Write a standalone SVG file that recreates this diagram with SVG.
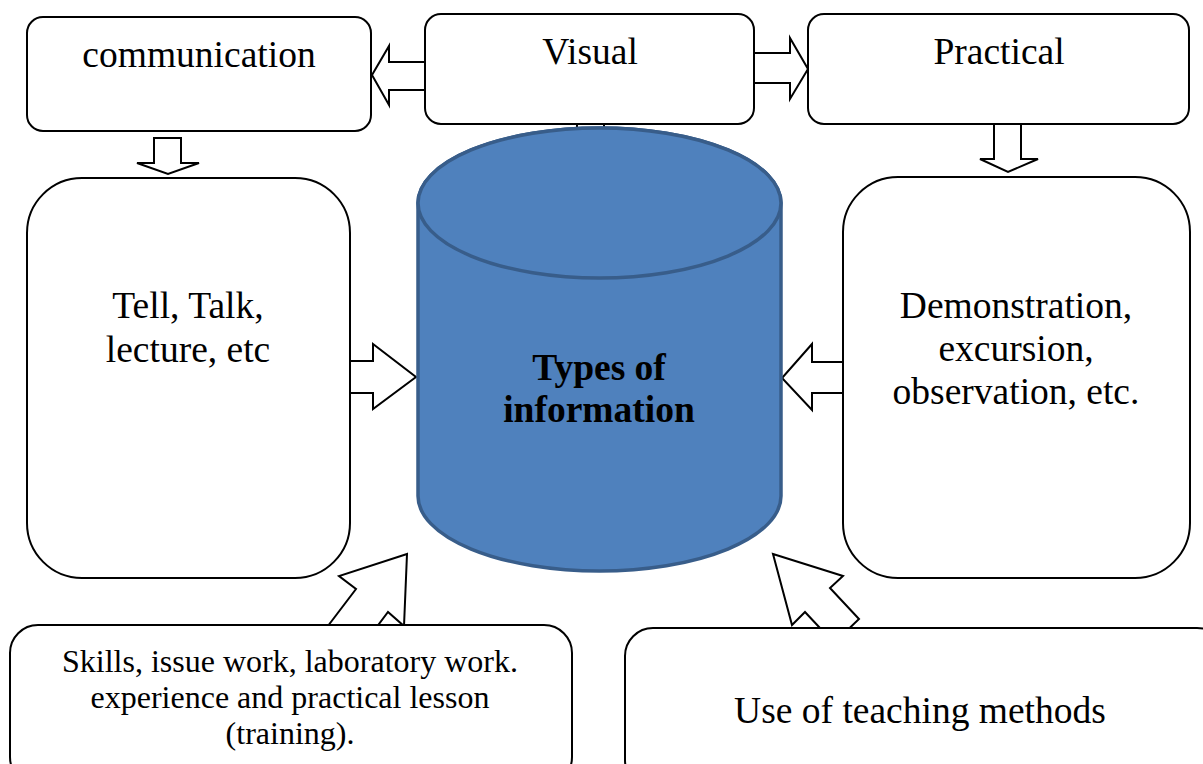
<svg xmlns="http://www.w3.org/2000/svg" width="1203" height="764" viewBox="0 0 1203 764">
  <style>
    .box { fill: #ffffff; stroke: #000000; stroke-width: 2; }
    .arr { fill: #ffffff; stroke: #000000; stroke-width: 2; stroke-linejoin: miter; }
    .t { font-family: "Liberation Serif", "Times New Roman", serif; font-size: 37.5px; fill: #000000; text-anchor: middle; }
    .ts { font-family: "Liberation Serif", "Times New Roman", serif; font-size: 32px; fill: #000000; text-anchor: middle; }
    .tb { font-family: "Liberation Serif", "Times New Roman", serif; font-size: 37.5px; font-weight: bold; fill: #000000; text-anchor: middle; }
  </style>
  <rect width="1203" height="764" fill="#ffffff"/>

  <!-- block arrows -->
  <g id="connectors">
    <!-- Visual to communication -->
    <polygon class="arr" points="425,62 389,62 389,46 372,75 389,105 389,90 425,90"/>
    <!-- Visual to Practical -->
    <polygon class="arr" points="754,53 790,53 790,38 808,69 790,99 790,83 754,83"/>
    <!-- Visual down into the store (mostly hidden) -->
    <polygon class="arr" points="577,124 604,124 604,160 615,160 590,180 565,160 577,160"/>
    <!-- communication down to Tell/Talk -->
    <polygon class="arr" points="154,138 181,138 181,163 199,163 168,174 137,163 154,163"/>
    <!-- Practical down to Demonstration -->
    <polygon class="arr" points="994,124 1021,124 1021,159 1038,159 1008,172 980,159 994,159"/>
    <!-- Tell/Talk into the store -->
    <polygon class="arr" points="350,361 373,361 373,344 416,377 373,409 373,393 350,393"/>
    <!-- Demonstration into the store -->
    <polygon class="arr" points="843,362 812,362 812,344 782,378 812,410 812,393 843,393"/>
    <!-- skills box toward the store -->
    <polygon class="arr" points="407,554 339,576 356,589 296,668 328,692 388,612 404,626"/>
    <!-- teaching methods toward the store -->
    <polygon class="arr" points="773,554 843,576 830,588 859,619 834,643 805,612 792,625"/>
  </g>

  <g id="node-communication">
    <rect class="box" x="27" y="17" width="344" height="114" rx="16"/>
    <text class="t" x="199" y="67">communication</text>
  </g>
  <g id="node-visual">
    <rect class="box" x="425" y="14" width="329" height="110" rx="16"/>
    <text class="t" x="590" y="64">Visual</text>
  </g>
  <g id="node-practical">
    <rect class="box" x="808" y="14" width="381" height="110" rx="16"/>
    <text class="t" x="999" y="64">Practical</text>
  </g>

  <g id="node-tell">
    <rect class="box" x="27" y="178" width="323" height="400" rx="55"/>
    <text class="t" x="188" y="318">Tell, Talk,</text>
    <text class="t" x="188" y="362">lecture, etc</text>
  </g>

  <g id="node-demonstration">
    <rect class="box" x="843" y="177" width="347" height="401" rx="55"/>
    <text class="t" x="1016" y="318">Demonstration,</text>
    <text class="t" x="1016" y="361">excursion,</text>
    <text class="t" x="1016" y="404">observation, etc.</text>
  </g>

  <g id="node-types">
    <path d="M418,203 L418,496 A181.5,75 0 0 0 781,496 L781,203 A181.5,75 0 0 0 418,203 Z" fill="#4f81bd" stroke="#385d8a" stroke-width="3.5"/>
    <ellipse cx="599.5" cy="203" rx="181.5" ry="75" fill="#4f81bd" stroke="#385d8a" stroke-width="3.5"/>
    <text class="tb" x="599" y="380">Types of</text>
    <text class="tb" x="599" y="422">information</text>
  </g>

  <g id="node-skills">
    <rect class="box" x="10" y="625" width="562" height="160" rx="28"/>
    <text class="ts" x="290" y="672">Skills, issue work, laboratory work.</text>
    <text class="ts" x="290" y="708">experience and practical lesson</text>
    <text class="ts" x="290" y="744">(training).</text>
  </g>

  <g id="node-methods">
    <rect class="box" x="625" y="628" width="600" height="160" rx="28"/>
    <text class="t" x="920" y="723">Use of teaching methods</text>
  </g>
</svg>
